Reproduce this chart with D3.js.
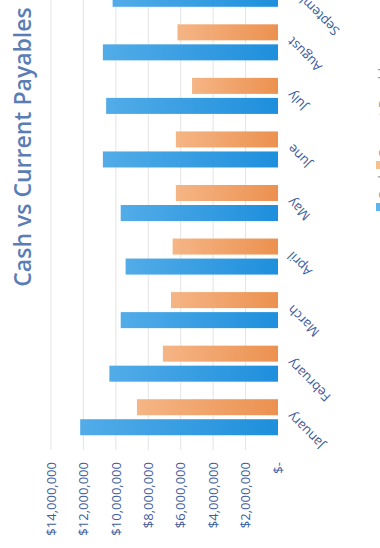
<!DOCTYPE html>
<html>
<head>
<meta charset="utf-8">
<script src="https://cdn.jsdelivr.net/npm/d3@7"></script>
<style>
  body { margin: 0; background: #fff; }
  svg { display: block; }
  .grid line { stroke: #e4e4e4; stroke-width: 1; }
  .vaxis text { font-family: "Open Sans", sans-serif; font-size: 13px; fill: #3d5c9c; }
  .caxis text { font-family: "Open Sans", sans-serif; font-size: 13px; fill: #3d5c9c; }
</style>
</head>
<body>
<div class="container"></div>
<script>
const months = ['January', 'February', 'March', 'April', 'May', 'June', 'July', 'August', 'September'];
const cash = [12200000, 10400000, 9700000, 9400000, 9700000, 10800000, 10600000, 10800000, 10200000];
const payables = [8700000, 7100000, 6600000, 6500000, 6300000, 6300000, 5300000, 6200000, 6000000];
const tickValues = [0, 2000000, 4000000, 6000000, 8000000, 10000000, 12000000, 14000000];
const seriesNames = ['Cash', 'Current Payables'];

const WIDTH = 380;
const HEIGHT = 548;

// the page is a scan turned on its side: draw the upright chart, then rotate it
const CW = HEIGHT;   // chart width before rotation
let translate = (x, y) => (`translate(${x},${y})`);

let svg = d3.select('.container').append('svg')
    .attr('width', WIDTH)
    .attr('height', HEIGHT);

let defs = svg.append('defs');
let addGrad = (id, top, bottom) => {
    let g = defs.append('linearGradient').attr('id', id)
        .attr('x1', 0).attr('y1', 0).attr('x2', 0).attr('y2', 1);
    g.append('stop').attr('offset', '0%').attr('stop-color', top);
    g.append('stop').attr('offset', '100%').attr('stop-color', bottom);
};
addGrad('gCash', '#52ace8', '#1e8fdc');
addGrad('gPay', '#f5b585', '#ec9150');

let chart = svg.append('g')
    .attr('transform', `translate(0,${CW}) rotate(-90)`);

let x0 = d3.scaleBand()
    .domain(months)
    .range([104, 586]);

let x1 = d3.scaleBand()
    .domain(seriesNames)
    .range([0, x0.bandwidth()])
    .paddingInner(0.2)
    .paddingOuter(0.4375);

let y = d3.scaleLinear()
    .domain([0, 14000000])
    .range([278, 51]);

// gridlines
chart.append('g').attr('class', 'grid')
    .selectAll('line')
    .data(tickValues.slice(1))
    .enter().append('line')
    .attr('x1', 98).attr('x2', 600)
    .attr('y1', d => y(d)).attr('y2', d => y(d));

// value axis
let fmt = d => d === 0 ? '$-' : '$' + d3.format(',')(d);
let vAxis = chart.append('g').attr('class', 'vaxis')
    .attr('transform', translate(92, 0))
    .call(d3.axisLeft(y).tickValues(tickValues).tickFormat(fmt).tickSize(0).tickPadding(6));
vAxis.select('.domain').remove();

// bars
let groups = chart.append('g').selectAll('g')
    .data(months)
    .enter().append('g')
    .attr('transform', d => translate(x0(d), 0));

groups.selectAll('rect')
    .data((d, i) => [
        {key: 'Cash', value: cash[i]},
        {key: 'Current Payables', value: payables[i]}
    ])
    .enter().append('rect')
    .attr('x', d => x1(d.key))
    .attr('width', x1.bandwidth())
    .attr('y', d => y(d.value))
    .attr('height', d => y(0) - y(d.value))
    .attr('fill', d => d.key === 'Cash' ? 'url(#gCash)' : 'url(#gPay)');

// month labels
chart.append('g').attr('class', 'caxis')
    .selectAll('text')
    .data(months)
    .enter().append('text')
    .attr('transform', d => translate(x0(d) + x0.bandwidth() / 2 + 6, 293) + ' rotate(-45)')
    .attr('text-anchor', 'end')
    .text(d => d);

// title
chart.append('text')
    .attr('x', 401)
    .attr('y', 31)
    .attr('text-anchor', 'middle')
    .style('font-family', '"Open Sans", sans-serif')
    .style('font-weight', 600)
    .style('font-size', '23px')
    .style('fill', '#5a7db6')
    .text('Cash vs Current Payables');

// legend (mostly off the page edge)
let legendX = [337, 379];
let legend = chart.append('g').selectAll('g')
    .data(seriesNames)
    .enter().append('g')
    .attr('transform', (d, i) => translate(legendX[i], 376));
legend.append('rect')
    .attr('width', 8).attr('height', 8)
    .attr('fill', (d, i) => i === 0 ? '#5fb4ea' : '#f6c08f');
legend.append('text')
    .attr('x', 11).attr('y', 12)
    .style('font-family', '"Open Sans", sans-serif')
    .style('font-size', '13px')
    .style('fill', '#9a9a9a')
    .text(d => d);
</script>
</body>
</html>
